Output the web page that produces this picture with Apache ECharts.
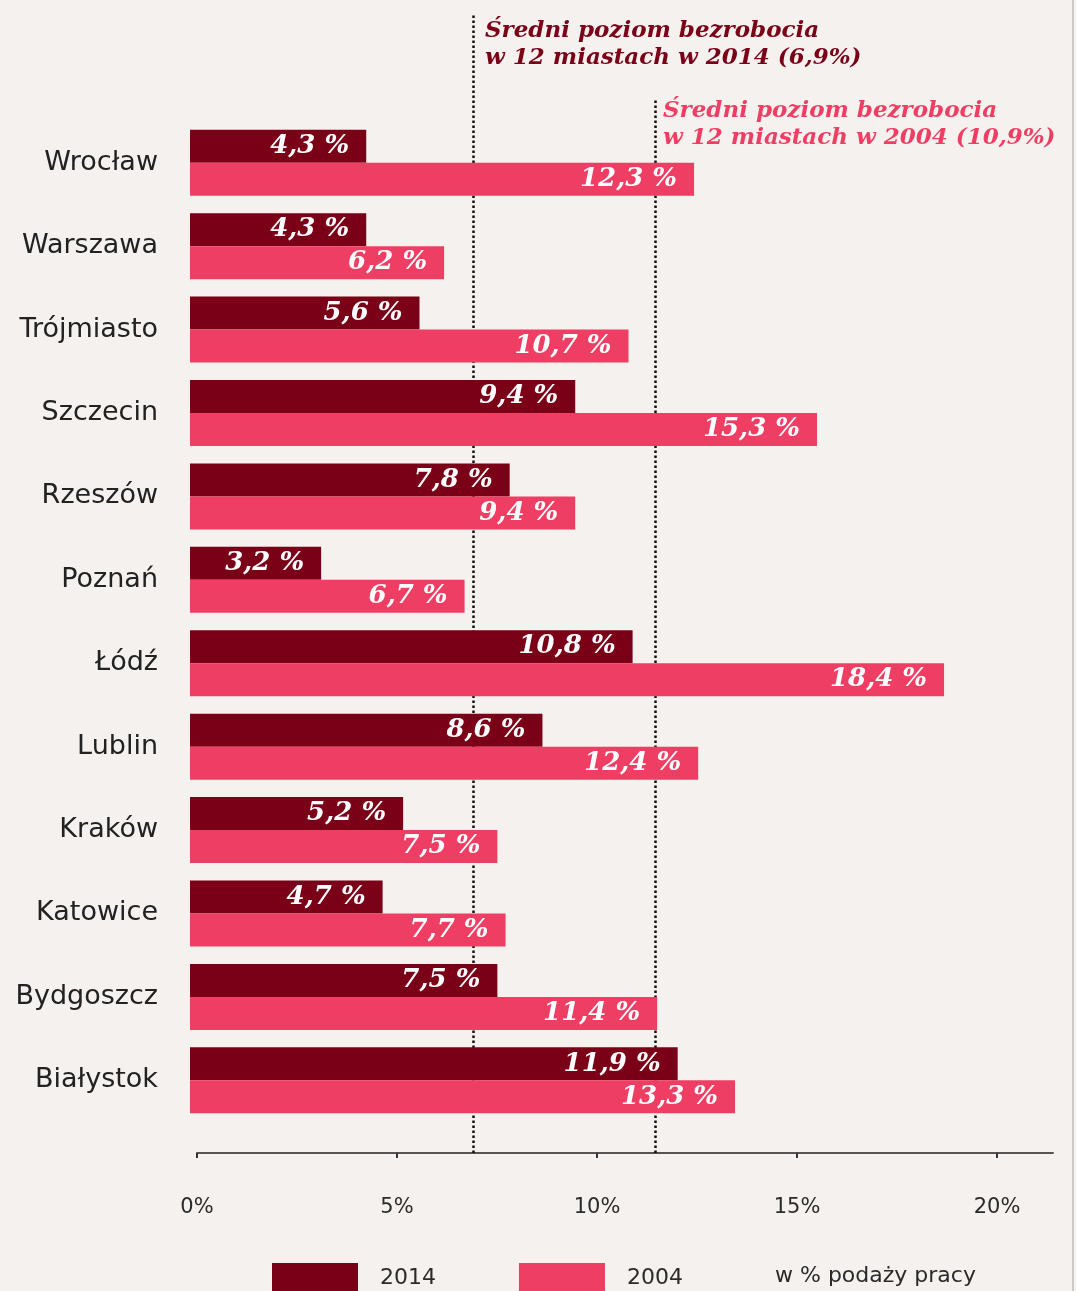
<!DOCTYPE html>
<html>
<head>
<meta charset="utf-8">
<script src="https://cdn.jsdelivr.net/npm/echarts@6/dist/echarts.min.js"></script>
<style>
  html, body { margin: 0; padding: 0; background: #f4f1ee; }
  #main { width: 1076px; height: 1291px; }
</style>
</head>
<body>
<div id="main"></div>
<script>
// miasta, od góry
const cities = ['Wrocław', 'Warszawa', 'Trójmiasto', 'Szczecin', 'Rzeszów', 'Poznań', 'Łódź', 'Lublin', 'Kraków', 'Katowice', 'Bydgoszcz', 'Białystok'];
const values2014 = [4.3, 4.3, 5.6, 9.4, 7.8, 3.2, 10.8, 8.6, 5.2, 4.7, 7.5, 11.9];
const values2004 = [12.3, 6.2, 10.7, 15.3, 9.4, 6.7, 18.4, 12.4, 7.5, 7.7, 11.4, 13.3];
const xTicks = [0, 5, 10, 15, 20];
// pozycje linii średniej
const avgLine2014 = 6.9;
const avgLine2004 = 11.45;

const DARK = '#7a0018';
const PINK = '#ef3e64';

function fmt(v) {
  return v.toFixed(1).replace('.', ',') + ' %';
}

const barLabel = {
  show: true,
  position: 'insideRight',
  distance: 17,
  color: '#fff',
  fontFamily: 'DejaVu Serif',
  fontStyle: 'italic',
  fontWeight: 'bold',
  fontSize: 26,
  formatter: p => fmt(p.value)
};

const chart = echarts.init(document.getElementById('main'));
const option = {
  backgroundColor: '#f4f1ee',
  animation: false,
  grid: [
    // słupki
    { left: 190, top: 121, width: 877, height: 1001 },
    // oś X i linie średnich
    { left: 197, top: 13, width: 856, height: 1140 }
  ],
  xAxis: [
    { gridIndex: 0, type: 'value', min: 0, max: 21.4, show: false },
    {
      gridIndex: 1, type: 'value', min: 0, max: 21.4,
      splitLine: { show: false },
      axisLine: { show: true, lineStyle: { color: '#555', width: 2 } },
      axisTick: { show: true, customValues: xTicks, length: 5, inside: false, lineStyle: { color: '#333', width: 2 } },
      axisLabel: {
        customValues: xTicks,
        margin: 44,
        color: '#2b2b2b',
        fontFamily: 'DejaVu Sans',
        fontSize: 21,
        formatter: v => v + '%'
      }
    }
  ],
  yAxis: [
    {
      gridIndex: 0, type: 'category', data: cities, inverse: true,
      axisLine: { show: false },
      axisTick: { show: false },
      axisLabel: { margin: 32, color: '#222', fontFamily: 'DejaVu Sans', fontSize: 27 }
    },
    { gridIndex: 1, type: 'value', min: 0, max: 1, show: false }
  ],
  legend: {
    left: 272,
    top: 1263,
    padding: 0,
    icon: 'rect',
    itemWidth: 86,
    itemHeight: 30,
    itemGap: 83,
    data: ['2014', '2004'],
    textStyle: { color: '#2b2b2b', fontFamily: 'DejaVu Sans', fontSize: 22, padding: [0, 0, 0, 17] }
  },
  graphic: [
    {
      type: 'text', left: 485, top: 18,
      style: {
        text: 'Średni poziom bezrobocia\nw 12 miastach w 2014 (6,9%)',
        font: 'italic bold 23px "DejaVu Serif"', fill: DARK, lineHeight: 27
      }
    },
    {
      type: 'text', left: 663, top: 98,
      style: {
        text: 'Średni poziom bezrobocia\nw 12 miastach w 2004 (10,9%)',
        font: 'italic bold 23px "DejaVu Serif"', fill: PINK, lineHeight: 27
      }
    },
    {
      type: 'text', left: 775, top: 1265,
      style: { text: 'w % podaży pracy', font: '22px "DejaVu Sans"', fill: '#2b2b2b' }
    },
    {
      type: 'rect', right: 2, top: 0,
      shape: { width: 2, height: 1291 },
      style: { fill: '#cfcac6' }
    }
  ],
  series: [
    {
      name: '2014', type: 'bar', xAxisIndex: 0, yAxisIndex: 0,
      data: values2014, barWidth: 33, barGap: '0%', z: 3,
      itemStyle: { color: DARK },
      label: barLabel
    },
    {
      name: '2004', type: 'bar', xAxisIndex: 0, yAxisIndex: 0,
      data: values2004, barWidth: 33, barGap: '0%', z: 3,
      itemStyle: { color: PINK },
      label: barLabel
    },
    {
      name: 'avg', type: 'scatter', xAxisIndex: 1, yAxisIndex: 1,
      data: [], z: 1, silent: true,
      markLine: {
        silent: true,
        z: 1,
        symbol: 'none',
        label: { show: false },
        lineStyle: { color: '#111', type: 'dotted', width: 2.5 },
        data: [
          [{ coord: [avgLine2014, 0] }, { coord: [avgLine2014, 1] }],
          [{ coord: [avgLine2004, 0] }, { coord: [avgLine2004, 0.925] }]
        ]
      }
    }
  ]
};
chart.setOption(option);
</script>
</body>
</html>
